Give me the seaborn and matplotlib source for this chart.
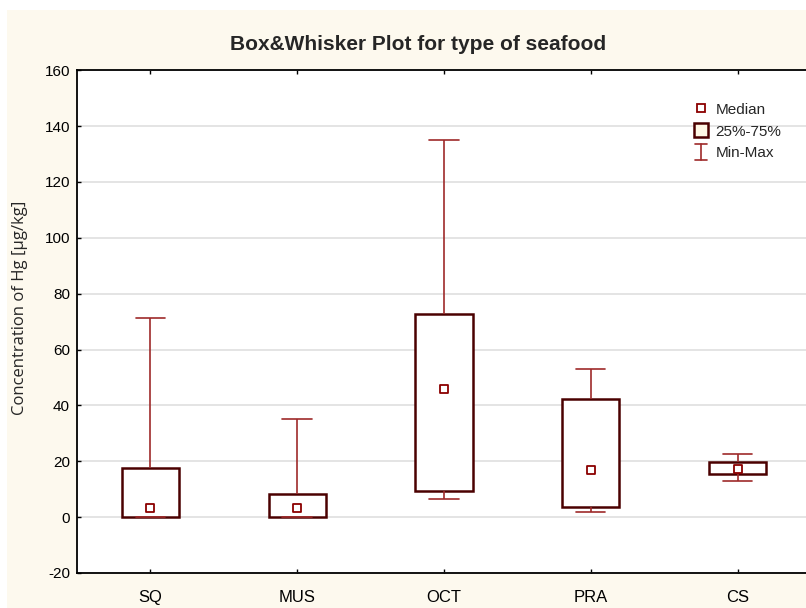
import pandas as pd
import seaborn as sns
import matplotlib.pyplot as plt
from matplotlib.lines import Line2D
from matplotlib.patches import Patch, Rectangle
from matplotlib.legend_handler import HandlerBase

# five-number summary per seafood type
categories = ['SQ', 'MUS', 'OCT', 'PRA', 'CS']
mins = [0.0, 0.0, 6.5, 2.0, 13.0]
q1s = [0.0, 0.0, 9.5, 3.7, 15.6]
medians = [3.2, 3.2, 45.8, 17.0, 17.4]
q3s = [17.6, 8.1, 72.8, 42.3, 19.8]
maxs = [71.3, 35.1, 135.0, 53.1, 22.6]

CREAM = '#fdf9ee'
BOX_EDGE = '#4a0000'
WHISK = '#9e2a2a'
MED = '#8b0000'
NARROW = ['Liberation Sans Narrow', 'Liberation Sans', 'DejaVu Sans']


class MinMaxHandler(HandlerBase):
    def create_artists(self, legend, orig_handle, xdescent, ydescent,
                       width, height, fontsize, trans):
        cx = width / 2 - xdescent
        y0, y1 = -ydescent - 1, height - ydescent + 1
        cw = width * 0.45
        lines = [
            Line2D([cx, cx], [y0, y1], color=WHISK, lw=1.2),
            Line2D([cx - cw, cx + cw], [y0, y0], color=WHISK, lw=1.2),
            Line2D([cx - cw, cx + cw], [y1, y1], color=WHISK, lw=1.2),
        ]
        for ln in lines:
            ln.set_transform(trans)
        return lines


def main():
    # 5 values per group -> linear percentiles hit q1/median/q3 exactly
    rows = []
    for i, c in enumerate(categories):
        for v in (mins[i], q1s[i], medians[i], q3s[i], maxs[i]):
            rows.append({'type': c, 'hg': v})
    df = pd.DataFrame(rows)
    med_df = pd.DataFrame({'type': categories, 'hg': medians})

    sns.set_style('white')
    plt.rcParams['font.family'] = NARROW
    plt.rcParams['axes.unicode_minus'] = False

    fig = plt.figure(figsize=(8.06, 6.08), dpi=100, facecolor='white')
    fig.patches.append(Rectangle((0.009, 0.0), 1.0, 0.984, transform=fig.transFigure,
                                 facecolor=CREAM, edgecolor='none', zorder=-10))
    ax = fig.add_axes([0.0955, 0.0576, 0.9107, 0.827])
    ax.set_facecolor('white')

    sns.boxplot(
        data=df, x='type', y='hg', order=categories, ax=ax,
        whis=(0, 100), width=0.39, fliersize=0,
        boxprops=dict(facecolor='white', edgecolor=BOX_EDGE, linewidth=1.8),
        whiskerprops=dict(color=WHISK, linewidth=1.2),
        capprops=dict(color=WHISK, linewidth=1.2),
        medianprops=dict(visible=False),
        capwidths=0.2,
    )
    sns.stripplot(
        data=med_df, x='type', y='hg', order=categories, ax=ax,
        jitter=False, marker='s', size=5.5, color='white',
        edgecolor=MED, linewidth=1.3, zorder=5,
    )

    ax.set_xlim(-0.5, 4.5)
    ax.set_ylim(-20, 160)
    ax.set_yticks(range(-20, 161, 20))
    ax.yaxis.grid(True, color='#e2e2e2', linewidth=1.3)
    ax.set_axisbelow(True)
    ax.set_xlabel('')
    ax.set_ylabel('')
    for s in ax.spines.values():
        s.set_color('black')
        s.set_linewidth(1.3)
    ax.tick_params(axis='both', direction='in', length=3, width=1,
                   labelsize=11, colors='black', top=True, left=True,
                   bottom=True, right=False)
    ax.tick_params(axis='x', pad=12, labelsize=12)
    ax.tick_params(axis='y', pad=5)

    fig.text(0.519, 0.926, 'Box&Whisker Plot for type of seafood',
             ha='center', va='center', fontsize=15, fontweight='bold',
             family=NARROW)
    fig.text(0.025, 0.493, 'Concentration of Hg [µg/kg]', rotation=90,
             ha='center', va='center', fontsize=12,
             family=['Open Sans', 'DejaVu Sans'])

    mm = Line2D([], [])
    handles = [
        Line2D([], [], marker='s', linestyle='none', markersize=5.5,
               markerfacecolor='white', markeredgecolor=MED, markeredgewidth=1.3),
        Patch(facecolor='#fff8e6', edgecolor=BOX_EDGE, linewidth=1.8),
        mm,
    ]
    labels = ['Median', '25%-75%', 'Min-Max']
    ax.legend(handles, labels, loc='upper left', bbox_to_anchor=(0.822, 0.965),
              frameon=False, fontsize=11, handlelength=0.9, handleheight=1.0,
              handletextpad=0.5, labelspacing=0.45,
              handler_map={mm: MinMaxHandler()})

    fig.savefig('out.png', dpi=100, facecolor=fig.get_facecolor())


if __name__ == '__main__':
    main()
